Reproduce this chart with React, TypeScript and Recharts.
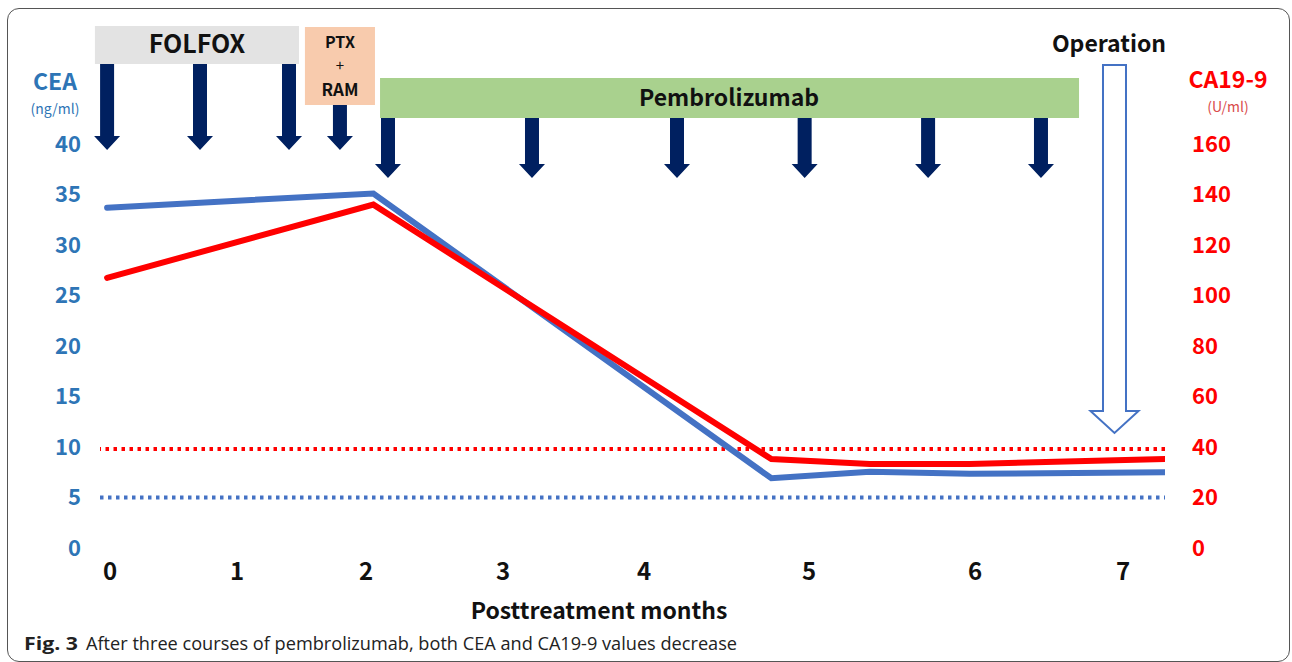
import React from 'react';
import { LineChart, Line, XAxis, YAxis, ReferenceLine, ReferenceArea } from 'recharts';

// Timeline positions (chart x units; month tick k sits at monthTicks[k])
const monthTicks = [0, 0.878, 1.769, 2.716, 3.69, 4.83, 5.977, 7];
const monthLabels = ['0', '1', '2', '3', '4', '5', '6', '7'];
const timeline = [-0.02, 1.82, 4.57, 5.25, 5.94, 7.29];
const ceaValues = [33.7, 35.1, 6.9, 7.55, 7.35, 7.5];
const ca199Values = [107, 136, 35.2, 33.3, 33.3, 35.2];
const ceaTicks = [0, 5, 10, 15, 20, 25, 30, 35, 40];
const ca199Ticks = [0, 20, 40, 60, 80, 100, 120, 140, 160];
const ceaLimit = 5;
const ca199Limit = 39.2;

// Treatment annotations (chart units)
const folfoxDoses = [-0.02, 0.622, 1.237];
const ptxDoses = [1.589];
const pembroDoses = [1.921, 2.916, 3.918, 4.8, 5.653, 6.433];
const operationAt = 6.941;

const data = timeline.map((t, i) => ({ t, cea: ceaValues[i], ca: ca199Values[i] }));

const NAVY = '#002060';
const BLUE = '#4472c4';
const RED = '#ff0000';
const AXBLUE = '#2e75b6';
const FONT = '"Noto Sans CJK JP", "Noto Sans", sans-serif';

const DoseArrow = (p: any) => {
  const { x1, y1, y2 } = p;
  const sw = 7, hw = 13, hh = 14;
  const d = `M${x1 - sw},${y1} L${x1 + sw},${y1} L${x1 + sw},${y2 - hh} L${x1 + hw},${y2 - hh} L${x1},${y2} L${x1 - hw},${y2 - hh} L${x1 - sw},${y2 - hh} Z`;
  return <path d={d} fill={NAVY} stroke="none" />;
};

const HollowArrow = (p: any) => {
  const { x1, y1, y2 } = p;
  const sw = 11.5, hw = 24, hh = 22;
  const d = `M${x1 - sw},${y1} L${x1 + sw},${y1} L${x1 + sw},${y2 - hh} L${x1 + hw},${y2 - hh} L${x1},${y2} L${x1 - hw},${y2 - hh} L${x1 - sw},${y2 - hh} Z`;
  return <path d={d} fill="#ffffff" stroke={BLUE} strokeWidth={2} />;
};

const fmtMonth = (v: number) => {
  let best = 0;
  monthTicks.forEach((m, i) => { if (Math.abs(m - v) < Math.abs(monthTicks[best] - v)) best = i; });
  return monthLabels[best];
};

export default function App() {
  return (
    <div style={{ position: 'absolute', left: 0, top: 0, width: 1292, height: 662, background: '#fff', fontFamily: FONT }}>
      <div style={{ position: 'absolute', left: 7, top: 8, width: 1283, height: 654, boxSizing: 'border-box', border: '1.5px solid #555', borderRadius: 12 }} />
      <div style={{ position: 'absolute', left: 0, top: 0 }}>
        <LineChart width={1292} height={662} data={data} margin={{ top: 22.8, right: 0, bottom: 74, left: 0 }}>
          <XAxis type="number" dataKey="t" domain={[-0.069, 7.29]} ticks={monthTicks} interval={0} allowDataOverflow
            tickFormatter={fmtMonth} axisLine={false} tickLine={false} tickSize={0} tickMargin={15} height={40}
            tick={{ fill: '#111', fontSize: 24, fontWeight: 700, fontFamily: FONT }} />
          <YAxis yAxisId="left" orientation="left" domain={[0, 52]} ticks={ceaTicks} interval={0} allowDataOverflow width={100}
            axisLine={false} tickLine={false} tickSize={0} tickMargin={19}
            tick={{ fill: AXBLUE, fontSize: 22, fontWeight: 700, fontFamily: FONT }} />
          <YAxis yAxisId="right" orientation="right" domain={[0, 208]} ticks={ca199Ticks} interval={0} allowDataOverflow width={127}
            axisLine={false} tickLine={false} tickSize={0} tickMargin={27}
            tick={{ fill: RED, fontSize: 22, fontWeight: 700, fontFamily: FONT, textAnchor: 'start' }} />

          <ReferenceArea yAxisId="left" x1={-0.104} x2={1.306} y1={47.92} y2={51.68} fill="#e3e3e3" fillOpacity={1} stroke="none" ifOverflow="visible" />
          <ReferenceArea yAxisId="left" x1={1.347} x2={1.831} y1={43.86} y2={51.58} fill="#f8cbad" fillOpacity={1} stroke="none" ifOverflow="visible" />
          <ReferenceArea yAxisId="left" x1={1.866} x2={6.696} y1={42.57} y2={46.53} fill="#a9d18e" fillOpacity={1} stroke="none" ifOverflow="visible" />

          {folfoxDoses.map((x, i) => (
            <ReferenceLine key={'f' + i} yAxisId="left" segment={[{ x, y: 47.92 }, { x, y: 39.41 }]} ifOverflow="visible" shape={DoseArrow} />
          ))}
          {ptxDoses.map((x, i) => (
            <ReferenceLine key={'p' + i} yAxisId="left" segment={[{ x, y: 43.86 }, { x, y: 39.41 }]} ifOverflow="visible" shape={DoseArrow} />
          ))}
          {pembroDoses.map((x, i) => (
            <ReferenceLine key={'k' + i} yAxisId="left" segment={[{ x, y: 42.57 }, { x, y: 36.63 }]} ifOverflow="visible" shape={DoseArrow} />
          ))}
          <ReferenceLine yAxisId="left" segment={[{ x: operationAt, y: 47.82 }, { x: operationAt, y: 11.39 }]} ifOverflow="visible" shape={HollowArrow} />

          <ReferenceLine yAxisId="right" y={ca199Limit} stroke={RED} strokeWidth={4} strokeDasharray="3.5 4.5" />
          <ReferenceLine yAxisId="left" y={ceaLimit} stroke={BLUE} strokeWidth={4} strokeDasharray="3.5 4.5" />

          <Line yAxisId="left" type="linear" dataKey="cea" stroke={BLUE} strokeWidth={6} dot={false} activeDot={false} isAnimationActive={false} strokeLinecap="round" strokeLinejoin="miter" />
          <Line yAxisId="right" type="linear" dataKey="ca" stroke={RED} strokeWidth={6} dot={false} activeDot={false} isAnimationActive={false} strokeLinecap="round" strokeLinejoin="miter" />
        </LineChart>
      </div>
      <svg width={1292} height={662} style={{ position: 'absolute', left: 0, top: 0, pointerEvents: 'none' }} fontFamily={FONT}>
        <text x={197} y={53} textAnchor="middle" fontSize={25} fontWeight={700} fill="#111">FOLFOX</text>
        <text x={340} y={48} textAnchor="middle" fontSize={16} fontWeight={700} fill="#111">PTX</text>
        <text x={340} y={71} textAnchor="middle" fontSize={15} fontWeight={400} fill="#111">+</text>
        <text x={340} y={96} textAnchor="middle" fontSize={17} fontWeight={700} fill="#111">RAM</text>
        <text x={729} y={106} textAnchor="middle" fontSize={23} fontWeight={700} fill="#111">Pembrolizumab</text>
        <text x={1109} y={52} textAnchor="middle" fontSize={23} fontWeight={700} fill="#111">Operation</text>
        <text x={55} y={90} textAnchor="middle" fontSize={23} fontWeight={700} fill={AXBLUE}>CEA</text>
        <text x={55} y={114} textAnchor="middle" fontSize={14} fontWeight={400} fill={AXBLUE}>(ng/ml)</text>
        <text x={1228} y={88} textAnchor="middle" fontSize={23} fontWeight={700} fill={RED}>CA19-9</text>
        <text x={1228} y={112} textAnchor="middle" fontSize={14} fontWeight={400} fill="#d94b4b">(U/ml)</text>
        <text x={599} y={619} textAnchor="middle" fontSize={23} fontWeight={700} fill="#111">Posttreatment months</text>
        <text x={24} y={650} fontSize={18} fontWeight={700} fill="#222" fontFamily='"Open Sans", sans-serif' textLength={54} lengthAdjust="spacingAndGlyphs">Fig. 3</text>
        <text x={86} y={650} fontSize={18} fontWeight={400} fill="#222" fontFamily='"Open Sans", sans-serif' textLength={651} lengthAdjust="spacingAndGlyphs">After three courses of pembrolizumab, both CEA and CA19-9 values decrease</text>
      </svg>
    </div>
  );
}
